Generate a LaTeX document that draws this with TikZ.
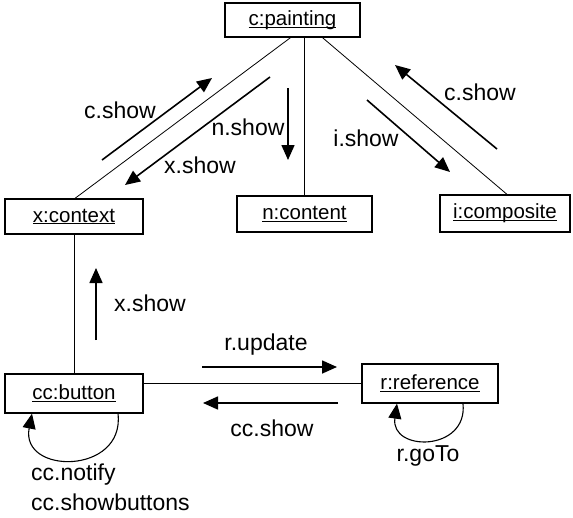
\documentclass[tikz,border=0pt]{standalone}
\usepackage{fontspec}
\setmainfont{Liberation Sans}
\usepackage{tikz}
\usetikzlibrary{arrows.meta,positioning,calc}
\newcommand{\objname}[1]{\setbox0\hbox{#1}\rlap{\rule[-2.2pt]{\wd0}{0.9pt}}\box0}

\begin{document}
\begin{tikzpicture}[x=1pt,y=-1pt,
  obj/.style={rectangle,draw,line width=1.3pt,inner sep=0pt,font=\fontsize{20.5}{22}\selectfont},
  lbl/.style={inner sep=0pt,font=\fontsize{23}{26}\selectfont},
  lnk/.style={line width=0.8pt},
  arr/.style={-{Triangle[length=15pt,width=13pt]},line width=1.6pt}
]
  \useasboundingbox (0,0) rectangle (573,517);
  \node[obj,minimum width=135pt,minimum height=34pt](paint) at (292.5,20)  {\objname{c:painting}};
  \node[obj,minimum width=138pt,minimum height=35pt](ctx)   at (74,216.5)  {\objname{x:context}};
  \node[obj,minimum width=135pt,minimum height=36pt](cont)  at (304.5,214) {\objname{n:content}};
  \node[obj,minimum width=130pt,minimum height=37pt](comp)  at (505,213.5) {\objname{i:composite}};
  \node[obj,minimum width=138pt,minimum height=39pt](btn)   at (74,393.5)  {\objname{cc:button}};
  \node[obj,minimum width=136pt,minimum height=39pt](ref)   at (430,383.5) {\objname{r:reference}};

  % links
  \draw[lnk]([xshift=-2pt]paint.south)--([xshift=1pt]ctx.north);
  \draw[lnk](paint.south -| cont.north)--(cont.north);
  \draw[lnk]([xshift=30pt]paint.south)--([xshift=2pt]comp.north);
  \draw[lnk](ctx.south)--(btn.north);
  \draw[lnk](ref.west -| btn.east)--(ref.west);

  % messages
  \draw[arr](102,160)--(212,78);  \node[lbl](cshowa) at (120,110){c.show};
  \draw[arr](270,77)--(125,185);  \node[lbl](xshowa) at (200,165){x.show};
  \draw[arr](288,88)--(288,160);  \node[lbl](nshow)  at (248,127){n.show};
  \draw[arr](367,100)--(450,172); \node[lbl](ishow)  at (366,138){i.show};
  \draw[arr](497,149)--(395,65);  \node[lbl](cshowb) at (480,92) {c.show};
  \draw[arr](96,340)--(96,268);   \node[lbl](xshowb) at (150,303){x.show};
  \draw[arr](202,367)--(337,367); \node[lbl](rupd)   at (266,345){r.update};
  \draw[arr](338,403)--(203,403); \node[lbl](ccshow) at (272,428){cc.show};

  % self calls
  \draw[arr,line width=1.1pt]([xshift=44pt]btn.south) .. controls (125,475) and (20,475) .. ([xshift=-42pt]btn.south);
  \node[lbl,anchor=west](ccnot) at (31,475){cc.notify};
  \node[lbl,anchor=west](ccbut) at (31,502){cc.showbuttons};
  \draw[arr,line width=1.1pt]([xshift=33pt]ref.south) .. controls (468,452) and (390,452) .. ([xshift=-33pt]ref.south);
  \node[lbl](rgoto) at (428,456){r.goTo};
\end{tikzpicture}
\end{document}
